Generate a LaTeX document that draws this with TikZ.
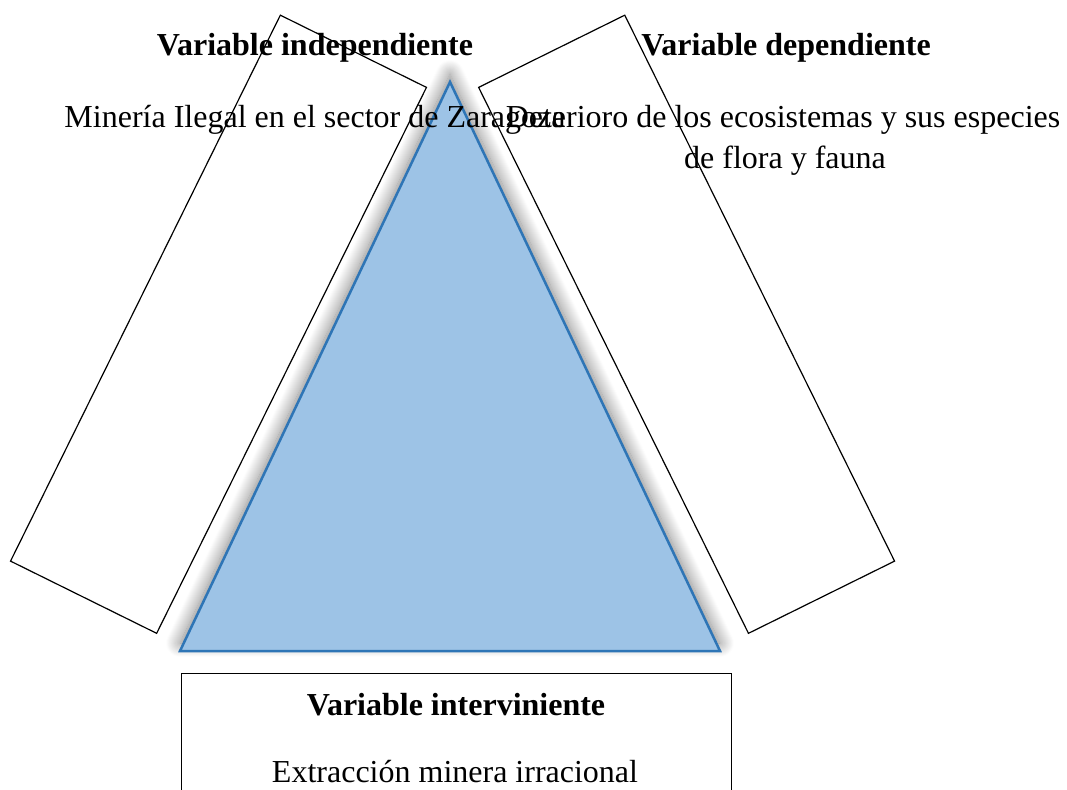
\documentclass[tikz,border=0pt]{standalone}
\usepackage{fontspec}
\setmainfont{Liberation Serif}
\usetikzlibrary{shadows.blur}
\definecolor{triblue}{HTML}{9DC3E6}
\definecolor{triedge}{HTML}{2E75B6}
\begin{document}
\begin{tikzpicture}[x=1pt,y=-1pt,
  varbox/.style={draw=black, line width=1.2pt, minimum width=163pt, minimum height=609pt, inner sep=0pt},
  intbox/.style={draw=black, line width=1.3pt, minimum width=550pt, minimum height=200pt, inner sep=0pt, anchor=north west},
  tri/.style={fill=triblue, draw=triedge, line width=2.5pt, line join=miter,
    blur shadow={shadow xshift=0pt, shadow yshift=8pt, shadow blur radius=14pt, shadow opacity=50, shadow blur steps=16}},
  ttl/.style={font=\fontsize{32}{40}\selectfont\bfseries, anchor=base, inner sep=0pt},
  txt/.style={font=\fontsize{32}{40}\selectfont, anchor=base, inner sep=0pt}]
\useasboundingbox (0,0) rectangle (1067,789);
\clip (0,0) rectangle (1067,789);
% rotated boxes
\node[varbox, rotate=-26.3] (indbox) at (218.5,324.25) {};
\node[varbox, rotate=26.3] (depbox) at (686.6,324.25) {};
\node[intbox] (intbox) at (181,673) {};
% triangle
\coordinate (apex) at (450,82);
\coordinate (bl) at (180,651);
\coordinate (br) at (720,651);
\path[tri] (apex) -- (br) -- (bl) -- cycle;
% texts
\node[ttl] (t1) at (315,56) {Variable independiente};
\node[txt] (x1) at (315,128) {Minería Ilegal en el sector de Zaragoza};
\node[ttl] (t2) at (786,56) {Variable dependiente};
\node[txt] (x2) at (783,128) {Deterioro de los ecosistemas y sus especies};
\node[txt] (x2b) at (785,168) {de flora y fauna};
\node[ttl] (t3) at (456,715) {Variable interviniente};
\node[txt] (x3) at (455,782) {Extracción minera irracional};
\end{tikzpicture}
\end{document}
